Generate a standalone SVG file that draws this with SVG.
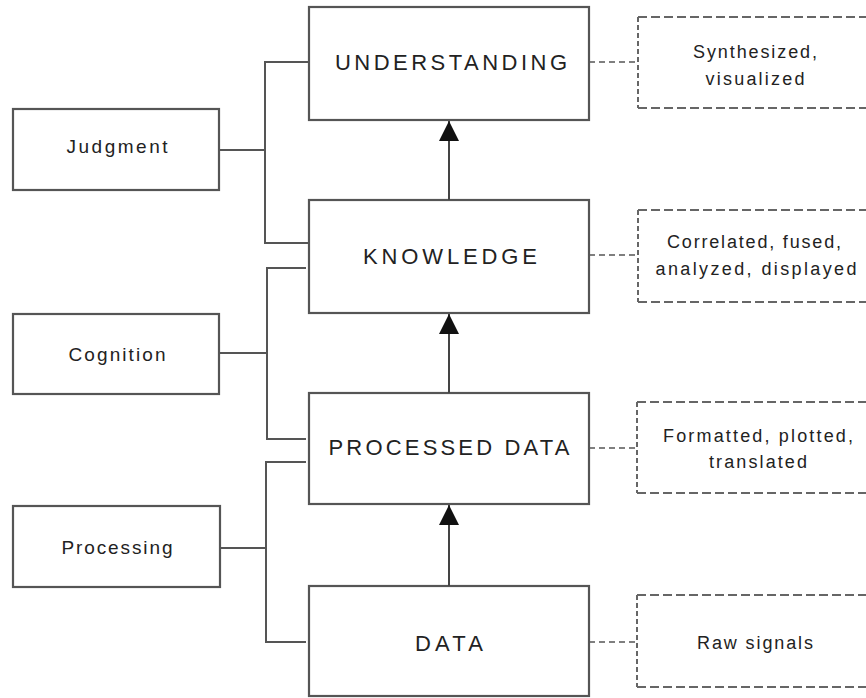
<svg xmlns="http://www.w3.org/2000/svg" width="866" height="698" viewBox="0 0 866 698">
  <style>
    .box { fill: #ffffff; stroke: #555555; stroke-width: 2.2; }
    .note { fill: none; stroke: #666666; stroke-width: 2; }
    .note-h { stroke-dasharray: 9 4; }
    .note-v { stroke-dasharray: 5 3; }
    .wire { fill: none; stroke: #555555; stroke-width: 2; }
    .dash { fill: none; stroke: #555555; stroke-width: 1.6; stroke-dasharray: 6 4; }
    .arrow { fill: none; stroke: #444444; stroke-width: 2; marker-end: url(#head); }
    text { font-family: "Liberation Sans", Arial, sans-serif; fill: #222222; text-anchor: middle; }
    .main { font-size: 22px; }
    .side { font-size: 19px; }
    .small { font-size: 18px; }
  </style>
  <defs>
    <marker id="head" viewBox="0 0 20 20" refX="20" refY="10" markerWidth="20" markerHeight="20" markerUnits="userSpaceOnUse" orient="auto">
      <path d="M0,0 L20,10 L0,20 Z" fill="#111111"/>
    </marker>
  </defs>

  <!-- main hierarchy -->
  <g id="understanding">
    <rect class="box" x="309" y="7" width="280" height="113"/>
    <text class="main" x="451" y="70" textLength="232" lengthAdjust="spacing">UNDERSTANDING</text>
  </g>
  <g id="knowledge">
    <rect class="box" x="309" y="200" width="280" height="113"/>
    <text class="main" x="450" y="264" textLength="174" lengthAdjust="spacing">KNOWLEDGE</text>
  </g>
  <g id="processed-data">
    <rect class="box" x="309" y="393" width="280" height="111"/>
    <text class="main" x="449" y="455" textLength="241" lengthAdjust="spacing">PROCESSED DATA</text>
  </g>
  <g id="data">
    <rect class="box" x="309" y="586" width="280" height="110"/>
    <text class="main" x="449" y="651" textLength="68" lengthAdjust="spacing">DATA</text>
  </g>

  <!-- faculties on the left -->
  <g id="judgment">
    <rect class="box" x="13" y="109" width="206" height="81"/>
    <text class="side" x="117" y="153" textLength="101" lengthAdjust="spacing">Judgment</text>
  </g>
  <g id="cognition">
    <rect class="box" x="13" y="314" width="206" height="80"/>
    <text class="side" x="117" y="361" textLength="97" lengthAdjust="spacing">Cognition</text>
  </g>
  <g id="processing">
    <rect class="box" x="13" y="506" width="207" height="81"/>
    <text class="side" x="117" y="554" textLength="111" lengthAdjust="spacing">Processing</text>
  </g>

  <!-- descriptions on the right (open to the right edge) -->
  <g id="synthesized">
    <path class="note note-h" d="M638,17 H880 M638,108 H880"/>
    <path class="note note-v" d="M638,17 V108"/>
    <text class="small" x="755" y="58" textLength="124" lengthAdjust="spacing">Synthesized,</text>
    <text class="small" x="755" y="85" textLength="99" lengthAdjust="spacing">visualized</text>
  </g>
  <g id="correlated">
    <path class="note note-h" d="M638,210 H880 M638,302 H880"/>
    <path class="note note-v" d="M638,210 V302"/>
    <text class="small" x="754" y="248" textLength="174" lengthAdjust="spacing">Correlated, fused,</text>
    <text class="small" x="756" y="275" textLength="201" lengthAdjust="spacing">analyzed, displayed</text>
  </g>
  <g id="formatted">
    <path class="note note-h" d="M637,402 H880 M637,493 H880"/>
    <path class="note note-v" d="M637,402 V493"/>
    <text class="small" x="758" y="442" textLength="190" lengthAdjust="spacing">Formatted, plotted,</text>
    <text class="small" x="758" y="468" textLength="98" lengthAdjust="spacing">translated</text>
  </g>
  <g id="raw-signals">
    <path class="note note-h" d="M637,595 H880 M637,687 H880"/>
    <path class="note note-v" d="M637,595 V687"/>
    <text class="small" x="755" y="649" textLength="116" lengthAdjust="spacing">Raw signals</text>
  </g>

  <!-- connectors -->
  <g id="connectors">
    <line class="arrow" x1="449" y1="200" x2="449" y2="121"/>
    <line class="arrow" x1="449" y1="393" x2="449" y2="314"/>
    <line class="arrow" x1="449" y1="586" x2="449" y2="505"/>

    <line class="wire" x1="219" y1="150" x2="265" y2="150"/>
    <path class="wire" d="M309,62 H265 V243 H310"/>
    <line class="wire" x1="219" y1="353" x2="267" y2="353"/>
    <path class="wire" d="M306,268 H267 V439 H306"/>
    <line class="wire" x1="220" y1="548" x2="266" y2="548"/>
    <path class="wire" d="M306,462 H266 V642 H306"/>

    <line class="dash" x1="589" y1="62" x2="638" y2="62"/>
    <line class="dash" x1="589" y1="255" x2="638" y2="255"/>
    <line class="dash" x1="589" y1="448" x2="637" y2="448"/>
    <line class="dash" x1="589" y1="642" x2="637" y2="642"/>
  </g>
</svg>
